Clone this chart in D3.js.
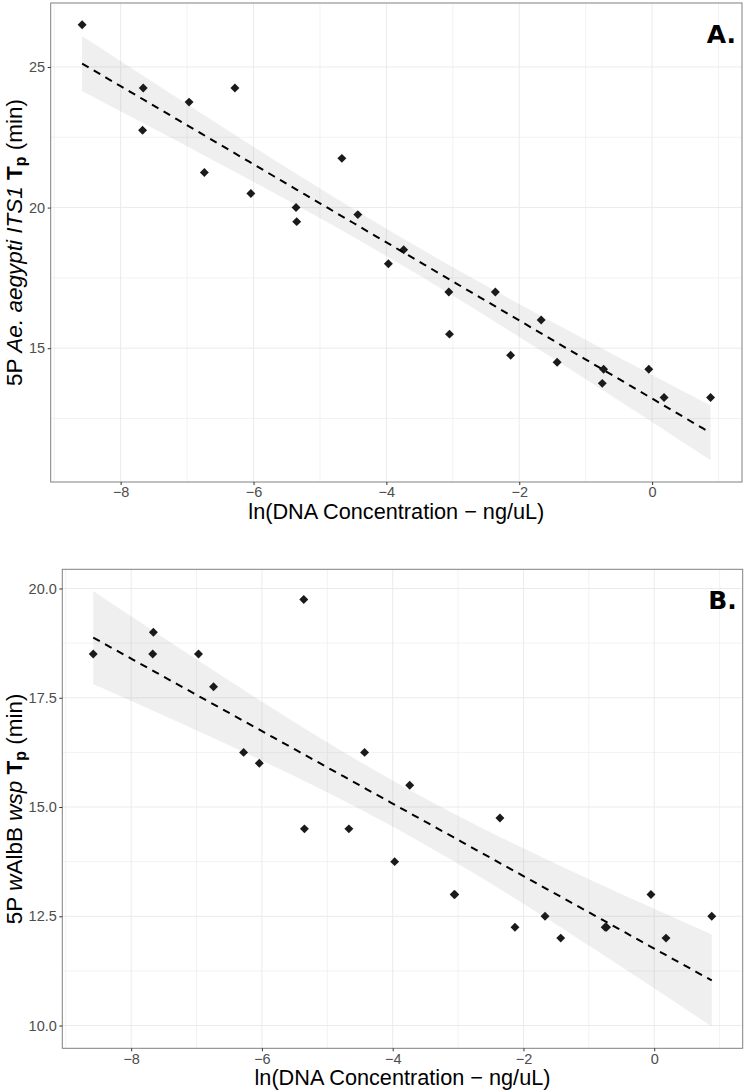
<!DOCTYPE html>
<html><head><meta charset="utf-8">
<script src="https://cdn.jsdelivr.net/npm/d3@7"></script>
<style>body{margin:0;background:#fff}</style>
</head><body><svg id="c" width="746" height="1091" xmlns="http://www.w3.org/2000/svg"></svg>
<script>
// ln(DNA concentration - ng/uL), shared by both panels
const lnConc = [-8.58, -7.66, -7.67, -6.97, -6.74, -6.28, -6.04, -5.36, -5.35, -4.67, -4.43, -3.97,
                -3.74, -3.06, -3.05, -2.36, -2.13, -1.67, -1.43, -0.75, -0.73, -0.05, 0.18, 0.88];
// Panel A: 5P Ae. aegypti ITS1 Tp (min)
const tpITS1 = [26.5, 24.25, 22.75, 23.75, 21.25, 24.25, 20.5, 20.0, 19.5, 21.75, 19.75, 18.0,
                18.5, 17.0, 15.5, 17.0, 14.75, 16.0, 14.5, 13.75, 14.25, 14.25, 13.25, 13.25];
// Panel B: 5P wAlbB wsp Tp (min)
const tpWsp = [18.5, 19.0, 18.5, 18.5, 17.75, 16.25, 16.0, 19.75, 14.5, 14.5, 16.25, 13.75,
               15.5, 13.0, 13.0, 14.75, 12.25, 12.5, 12.0, 12.25, 12.25, 13.0, 12.0, 12.5];
const xTicks = [-8, -6, -4, -2, 0];
const yTicksA = [15, 20, 25];
const yTicksB = [10, 12.5, 15, 17.5, 20];
const panelLabels = ["A.", "B."];
const xTitle = "ln(DNA Concentration \u2212 ng/uL)";
const yTitleA = [["5P ", ""], ["Ae. aegypti ITS1", "i"], [" ", ""], ["T", "b"], ["p", "bs"], [" (min)", ""]];
const yTitleB = [["5P ", ""], ["w", "i"], ["AlbB ", ""], ["wsp", "i"], [" ", ""], ["T", "b"], ["p", "bs"], [" (min)", ""]];

const svg = d3.select("#c");
const FONT = "'Liberation Sans', Arial, Helvetica, sans-serif";

function fitLM(xs, ys) {
  const n = xs.length, mx = d3.mean(xs), my = d3.mean(ys);
  let sxx = 0, sxy = 0;
  xs.forEach((x, i) => { sxx += (x - mx) ** 2; sxy += (x - mx) * (ys[i] - my); });
  const b = sxy / sxx, a = my - b * mx;
  let sse = 0;
  xs.forEach((x, i) => { sse += (ys[i] - a - b * x) ** 2; });
  const s = Math.sqrt(sse / (n - 2));
  const t = 2.0739; // t(0.975, df=22)
  const [lo, hi] = d3.extent(xs);
  const pts = d3.range(80).map(k => {
    const x = lo + (hi - lo) * k / 79;
    const f = a + b * x;
    const se = s * Math.sqrt(1 / n + (x - mx) ** 2 / sxx);
    return { x, f, lo: f - t * se, hi: f + t * se };
  });
  return pts;
}

function expand([a, b]) { const d = (b - a) * 0.05; return [a - d, b + d]; }

function minorOf(ticks, dom) {
  const step = ticks[1] - ticks[0];
  const ext = [ticks[0] - step, ...ticks, ticks[ticks.length - 1] + step];
  const m = [];
  for (let i = 0; i < ext.length - 1; i++) m.push((ext[i] + ext[i + 1]) / 2);
  return m.filter(v => v >= dom[0] && v <= dom[1]);
}

function panel(cfg) {
  const { left, right, top, bottom, ys, yTicks, fmt, label, title } = cfg;
  const fit = fitLM(lnConc, ys);
  const xDom = expand(d3.extent(lnConc));
  const yDom = expand(d3.extent([...ys, ...fit.map(d => d.lo), ...fit.map(d => d.hi)]));
  const x = d3.scaleLinear().domain(xDom).range([left, right]);
  const y = d3.scaleLinear().domain(yDom).range([bottom, top]);
  const g = svg.append("g");

  // grid
  const xMinor = minorOf(xTicks, xDom), yMinor = minorOf(yTicks, yDom);
  g.append("g").selectAll("line").data(xMinor).join("line")
    .attr("x1", d => x(d)).attr("x2", d => x(d)).attr("y1", top).attr("y2", bottom)
    .attr("stroke", "#f2f2f2").attr("stroke-width", 1);
  g.append("g").selectAll("line").data(yMinor).join("line")
    .attr("y1", d => y(d)).attr("y2", d => y(d)).attr("x1", left).attr("x2", right)
    .attr("stroke", "#f2f2f2").attr("stroke-width", 1);
  g.append("g").selectAll("line").data(xTicks).join("line")
    .attr("x1", d => x(d)).attr("x2", d => x(d)).attr("y1", top).attr("y2", bottom)
    .attr("stroke", "#ebebeb").attr("stroke-width", 1);
  g.append("g").selectAll("line").data(yTicks).join("line")
    .attr("y1", d => y(d)).attr("y2", d => y(d)).attr("x1", left).attr("x2", right)
    .attr("stroke", "#ebebeb").attr("stroke-width", 1);

  // confidence band
  g.append("path").datum(fit)
    .attr("d", d3.area().x(d => x(d.x)).y0(d => y(d.lo)).y1(d => y(d.hi)))
    .attr("fill", "#999").attr("fill-opacity", 0.16);

  // points
  g.append("g").selectAll("path").data(lnConc.map((v, i) => [v, ys[i]])).join("path")
    .attr("d", d3.symbol(d3.symbolSquare, 40)())
    .attr("transform", d => `translate(${x(d[0])},${y(d[1])}) rotate(45)`)
    .attr("fill", "#1a1a1a");

  // fit line
  g.append("path").datum(fit)
    .attr("d", d3.line().x(d => x(d.x)).y(d => y(d.f)))
    .attr("fill", "none").attr("stroke", "#000").attr("stroke-width", 2)
    .attr("stroke-dasharray", "7.5,6");

  // border
  g.append("rect").attr("x", left).attr("y", top).attr("width", right - left).attr("height", bottom - top)
    .attr("fill", "none").attr("stroke", "#808080").attr("stroke-width", 1);

  // axes
  const ax = g.append("g").attr("transform", `translate(0,${bottom})`)
    .call(d3.axisBottom(x).tickValues(xTicks).tickSize(3).tickSizeOuter(0).tickPadding(2));
  const ay = g.append("g").attr("transform", `translate(${left},0)`)
    .call(d3.axisLeft(y).tickValues(yTicks).tickFormat(d3.format(fmt)).tickSize(3).tickSizeOuter(0).tickPadding(2.5));
  [ax, ay].forEach(a => {
    a.select(".domain").remove();
    a.selectAll(".tick line").attr("stroke", "#333");
    a.selectAll(".tick text").attr("fill", "#4d4d4d").style("font-family", FONT).style("font-size", "14.5px");
  });

  // x title
  g.append("text").attr("x", (left + right) / 2).attr("y", bottom + 36.5)
    .attr("text-anchor", "middle").style("font-family", FONT).style("font-size", "21.7px")
    .attr("fill", "#000").text(xTitle);

  // y title
  const yt = g.append("text").attr("transform", `translate(21.5,${(top + bottom) / 2}) rotate(-90)`)
    .attr("text-anchor", "middle").style("font-family", FONT).style("font-size", "22.5px").attr("fill", "#000");
  let shifted = false;
  title.forEach(([t, s]) => {
    const sp = yt.append("tspan").text(t);
    if (s.includes("i")) sp.style("font-style", "italic");
    if (s.includes("b")) sp.style("font-weight", "bold");
    if (s.includes("s")) { sp.style("font-size", "16px").attr("dy", 4); shifted = true; }
    else if (shifted) { sp.attr("dy", -4); shifted = false; }
  });

  // panel label
  g.append("text").attr("x", right - 6).attr("y", top + 40)
    .attr("text-anchor", "end").style("font-family", "'DejaVu Sans', sans-serif")
    .style("font-weight", "bold").style("font-size", "25px").attr("fill", "#000").text(label);
}

panel({ left: 50.7, right: 742, top: 3, bottom: 482, ys: tpITS1, yTicks: yTicksA, fmt: "d", label: panelLabels[0], title: yTitleA });
panel({ left: 62.3, right: 742.7, top: 569.3, bottom: 1048.3, ys: tpWsp, yTicks: yTicksB, fmt: ".1f", label: panelLabels[1], title: yTitleB });
</script>
</body></html>
